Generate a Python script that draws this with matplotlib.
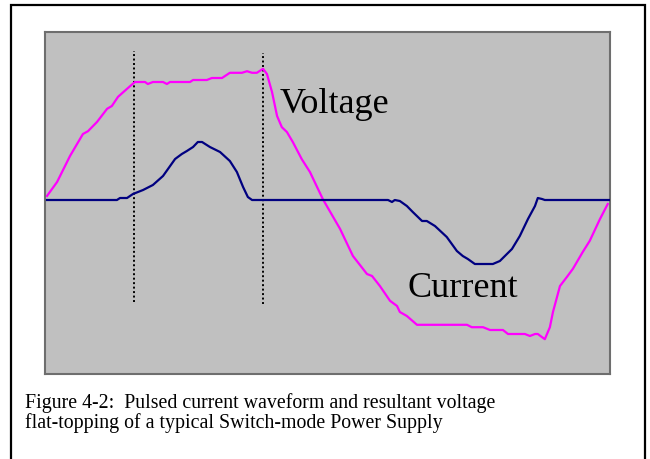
import matplotlib
matplotlib.use("Agg")
import matplotlib.pyplot as plt
from matplotlib.patches import Rectangle

# time in ms over one 50 Hz cycle
volt_t = [0.00, 0.36, 0.82, 1.28, 1.46, 1.78, 2.14, 2.31, 2.53, 2.85, 3.13, 3.49,
          3.59, 3.77, 4.13, 4.27, 4.38, 5.09, 5.20, 5.69, 5.87, 6.23, 6.51, 6.94,
          7.12, 7.30, 7.47, 7.69, 7.83, 8.01, 8.19, 8.36, 8.54, 8.75, 9.07, 9.36,
          9.82, 9.96, 10.43, 10.89, 11.39, 11.57, 11.85, 12.21, 12.46, 12.56, 12.81,
          13.17, 14.95, 15.12, 15.52, 15.77, 16.23, 16.41, 17.01, 17.19, 17.37,
          17.47, 17.72, 17.90, 18.01, 18.26, 18.51, 18.72, 19.07, 19.32, 19.68, 19.96]
volt_v = [10, 45, 110, 165, 172, 195, 228, 235, 258, 278, 295, 295,
          290, 295, 295, 290, 295, 295, 300, 300, 305, 305, 318, 318,
          322, 318, 318, 328, 315, 270, 210, 182, 170, 145, 102, 70,
          2, -15, -72, -140, -185, -190, -215, -252, -265, -280, -290,
          -312, -312, -318, -318, -325, -325, -335, -335, -340, -335,
          -335, -348, -318, -280, -215, -192, -172, -130, -102, -48, -10]

curr_t = [0.00, 2.49, 2.60, 2.85, 3.06, 3.42, 3.77, 4.13, 4.56, 4.80, 4.98, 5.20,
          5.37, 5.52, 5.80, 6.16, 6.51, 6.76, 6.98, 7.15, 7.30, 12.14, 12.28, 12.38,
          12.56, 12.81, 13.02, 13.35, 13.52, 13.81, 14.23, 14.59, 14.80, 14.98,
          15.23, 15.87, 16.12, 16.55, 16.83, 17.12, 17.37, 17.47, 17.62, 17.72, 20.00]
curr_a = [0, 0, 0.1, 0.1, 0.3, 0.5, 0.75, 1.2, 2.05, 2.3, 2.45, 2.65,
          2.9, 2.9, 2.65, 2.4, 1.95, 1.4, 0.65, 0.15, 0, 0, -0.1, 0,
          -0.05, -0.3, -0.6, -1.05, -1.05, -1.3, -1.85, -2.55, -2.8, -2.95,
          -3.2, -3.2, -3.05, -2.45, -1.8, -0.95, -0.3, 0.1, 0.05, 0, 0]

# conduction window markers (ms) and their extent (V)
marker_t = [3.10, 7.69]
marker_top = [372, 367]
marker_bot = [-255, -260]

caption_lines = ["Figure 4-2:  Pulsed current waveform and resultant voltage",
                 "flat-topping of a typical Switch-mode Power Supply"]

serif = ["Liberation Serif", "DejaVu Serif"]

fig = plt.figure(figsize=(6.5, 4.6), dpi=100)
fig.patch.set_facecolor("white")

# outer frame
fig.patches.append(Rectangle((11 / 650, -0.05), 634 / 650, 1.05 - 6 / 460,
                             transform=fig.transFigure, fill=False,
                             edgecolor="black", linewidth=1.6))

ax = fig.add_axes([45 / 650, 1 - 375 / 460, 565 / 650, 342 / 460])
ax.set_facecolor("#c0c0c0")
ax.set_xlim(-0.07, 20.04)
ax.set_ylim(-435, 420)
ax.set_xticks([])
ax.set_yticks([])
for s in ax.spines.values():
    s.set_color("#6e6e6e")
    s.set_linewidth(1.5)

ax2 = ax.twinx()
ax2.set_ylim(-435 * 0.02, 420 * 0.02)
ax2.set_yticks([])
ax2.axis("off")

ax.vlines(marker_t, marker_bot, marker_top, colors="black",
          linestyles=(0, (1, 1.3)), linewidth=1.4)
ax.plot(volt_t, volt_v, color="#ff00ff", linewidth=1.6, solid_joinstyle="round")
ax2.plot(curr_t, curr_a, color="#000080", linewidth=1.6, solid_joinstyle="round")

ax.text(8.29, 220, "Voltage", family=serif, fontsize=26, va="baseline", ha="left")
ax.text(12.85, -240, "Current", family=serif, fontsize=26, va="baseline", ha="left")

for i, line in enumerate(caption_lines):
    fig.text(25 / 650, 1 - (408 + 20 * i) / 460, line, family=serif,
             fontsize=14.3, va="baseline", ha="left")

fig.savefig("out.png", dpi=100)
